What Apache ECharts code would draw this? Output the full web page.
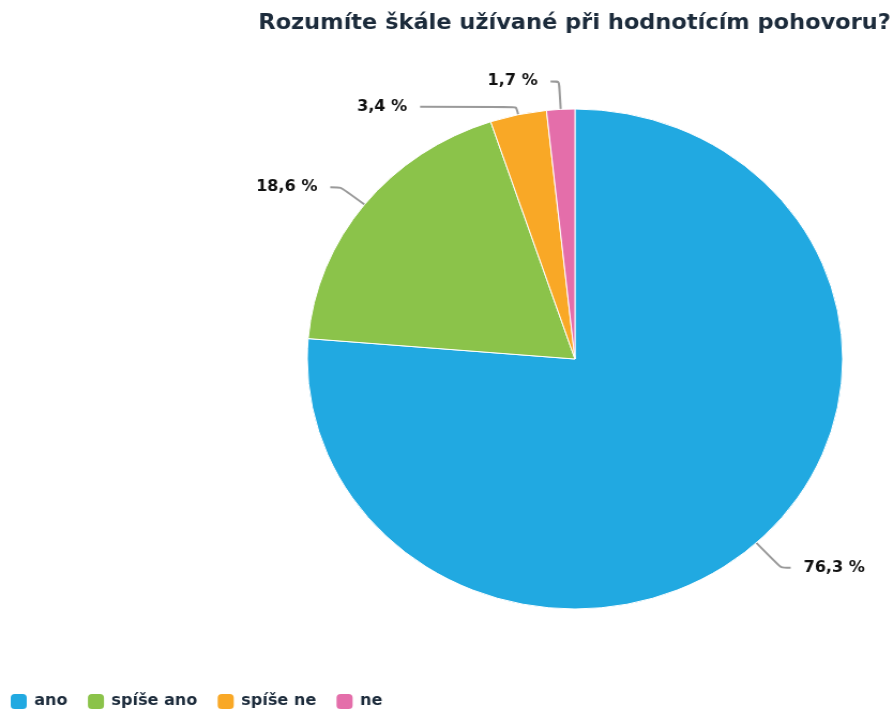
<!DOCTYPE html>
<html><head><meta charset="utf-8">
<script src="https://cdn.jsdelivr.net/npm/echarts@6/dist/echarts.min.js"></script>
<style>
html,body{margin:0;padding:0;background:#fff;overflow:hidden;}
#wrap{width:894px;height:713px;overflow:hidden;}
/* the chart is laid out slightly narrower and widened to the page, giving the wide oval pie */
#chart{width:835px;height:713px;transform:scaleX(1.0707);transform-origin:0 0;}
</style></head><body>
<div id="wrap"><div id="chart"></div></div>
<script>
const titleText = 'Rozumíte škále užívané při hodnotícím pohovoru?';
const categories = ['ano', 'spíše ano', 'spíše ne', 'ne'];
const shares = [76.3, 18.6, 3.4, 1.7];
const colors = ['#21a9e1', '#8bc34a', '#f9a826', '#e46eaa'];

// label-line lengths per slice so the small top slices keep their labels apart
const lineSetup = [
  { length: 34, length2: 9 },
  { length: 28, length2: 10 },
  { length: 8, length2: 90 },
  { length: 28, length2: 8 }
];

const ink = '#1c2b3b';
const font = 'DejaVu Sans';
// rounded-square legend marker
const legendIcon = 'path://M4,0 H10 A4,4 0 0 1 14,4 V10 A4,4 0 0 1 10,14 H4 A4,4 0 0 1 0,10 V4 A4,4 0 0 1 4,0 Z';

const chart = echarts.init(document.getElementById('chart'), null, { renderer: 'canvas' });
chart.setOption({
  animation: false,
  title: {
    text: titleText,
    right: 3,
    top: 13,
    padding: 0,
    textStyle: { fontFamily: font, fontWeight: 'bold', fontSize: 21, color: ink }
  },
  legend: {
    left: 8,
    top: 692,
    padding: 0,
    icon: legendIcon,
    itemWidth: 17,
    itemHeight: 17,
    itemGap: 17,
    data: categories,
    textStyle: { fontFamily: font, fontWeight: 'bold', fontSize: 15, color: ink, padding: [0, 0, 0, 1] }
  },
  series: [{
    type: 'pie',
    center: [537, 359],
    radius: [0, 250],
    startAngle: 90,
    clockwise: true,
    avoidLabelOverlap: false,
    emphasis: { disabled: true },
    itemStyle: { borderColor: '#ffffff', borderWidth: 1 },
    label: {
      show: true,
      fontFamily: font,
      fontWeight: 'bold',
      fontSize: 15,
      color: '#111',
      distanceToLabelLine: 12,
      formatter: p => p.value.toFixed(1).replace('.', ',') + ' %'
    },
    labelLine: { show: true, length: 28, length2: 9, smooth: 0.2, lineStyle: { color: '#9a9a9a', width: 2 } },
    data: categories.map((name, i) => ({
      name,
      value: shares[i],
      itemStyle: { color: colors[i] },
      labelLine: lineSetup[i]
    }))
  }]
});
</script>
</body></html>
